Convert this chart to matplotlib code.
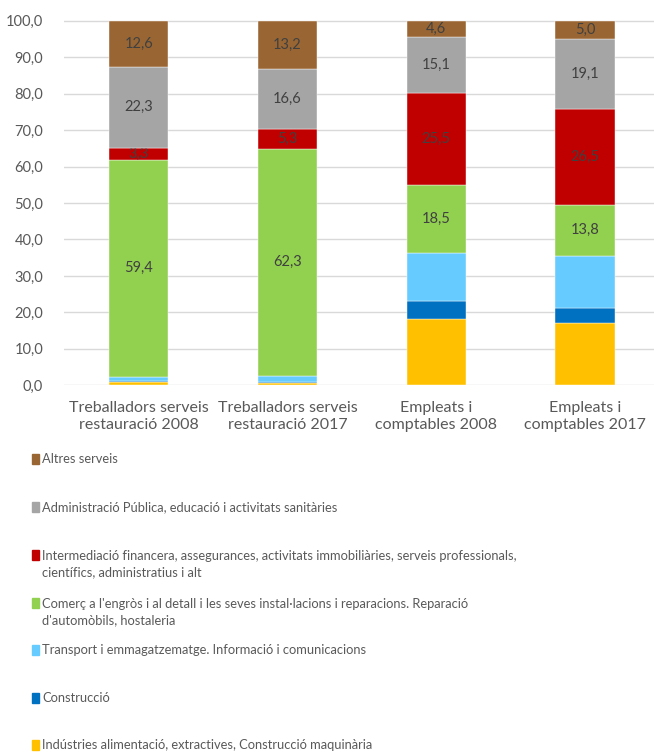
import matplotlib
matplotlib.use('Agg')
import matplotlib.pyplot as plt
from matplotlib.patches import Rectangle

plt.rcParams['font.family'] = ['Lato', 'DejaVu Sans']

categories = ["Treballadors serveis\nrestauració 2008",
              "Treballadors serveis\nrestauració 2017",
              "Empleats i\ncomptables 2008",
              "Empleats i\ncomptables 2017"]

# series, bottom to top
industries = [1.0, 0.6, 18.3, 17.2]
construccio = [0.2, 0.3, 4.8, 3.9]
transport = [1.2, 1.7, 13.2, 14.5]
comerc = [59.4, 62.3, 18.5, 13.8]
intermediacio = [3.3, 5.3, 25.5, 26.5]
administracio = [22.3, 16.6, 15.1, 19.1]
altres = [12.6, 13.2, 4.6, 5.0]

series_names = [
    "Indústries alimentació, extractives, Construcció maquinària",
    "Construcció",
    "Transport i emmagatzematge. Informació i comunicacions",
    "Comerç a l'engròs i al detall i les seves instal·lacions i reparacions. Reparació\nd'automòbils, hostaleria",
    "Intermediació financera, assegurances, activitats immobiliàries, serveis professionals,\ncientífics, administratius i alt",
    "Administració Pública, educació i activitats sanitàries",
    "Altres serveis",
]
series_values = [industries, construccio, transport, comerc, intermediacio, administracio, altres]
series_colors = ["#FFC000", "#0070C0", "#66CCFF", "#92D050", "#C00000", "#A5A5A5", "#996633"]
labelled = [False, False, False, True, True, True, True]

yticks = [0, 10, 20, 30, 40, 50, 60, 70, 80, 90, 100]

W, H = 654, 754
fig = plt.figure(figsize=(W / 100, H / 100), dpi=100)

# axes placement in pixels
x_left, x_right = 64, 654
y_zero, px_per_unit = 385.3, 3.646
ymax = 102
y_top = y_zero - ymax * px_per_unit
ax = fig.add_axes([x_left / W, 1 - y_zero / H, (x_right - x_left) / W, (y_zero - y_top) / H])

x = list(range(len(categories)))
bottom = [0.0] * len(categories)
for vals, col, lab in zip(series_values, series_colors, labelled):
    bars = ax.bar(x, vals, width=0.40, bottom=bottom, color=col,
                  edgecolor='white', linewidth=0.3, zorder=3)
    if lab:
        ax.bar_label(bars, labels=[f"{v:.1f}".replace('.', ',') for v in vals],
                     label_type='center', color='#404040', fontsize=10.5)
    bottom = [b + v for b, v in zip(bottom, vals)]

ax.set_xlim(-0.502, 3.463)
ax.set_ylim(0, ymax)
ax.set_yticks(yticks)
ax.set_yticklabels([f"{t:.1f}".replace('.', ',') for t in yticks], fontsize=10.5)
ax.set_xticks(x)
ax.set_xticklabels(categories, linespacing=1.3, fontsize=11.5)
ax.tick_params(axis='both', length=0, colors='#595959')
ax.tick_params(axis='y', pad=15)
ax.tick_params(axis='x', pad=11)
for s in ax.spines.values():
    s.set_visible(False)
ax.yaxis.grid(True, color='#D9D9D9', linewidth=1.0, zorder=0)
ax.set_axisbelow(True)

# legend (top to bottom)
leg_rows = [459, 507, 555, 603, 650, 698, 745]
for name, col, yrow in zip(series_names[::-1], series_colors[::-1], leg_rows):
    fig.add_artist(Rectangle((31.7 / W, 1 - (yrow + 4.8) / H), 7.3 / W, 9.7 / H,
                             transform=fig.transFigure, color=col))
    nlines = name.count('\n') + 1
    yc = yrow + (nlines - 1) * 18.3 / 2
    fig.text(42 / W, 1 - yc / H, name, ha='left', va='center', color='#595959',
             fontsize=9.3, linespacing=1.45)

fig.savefig('out.png', dpi=100)
